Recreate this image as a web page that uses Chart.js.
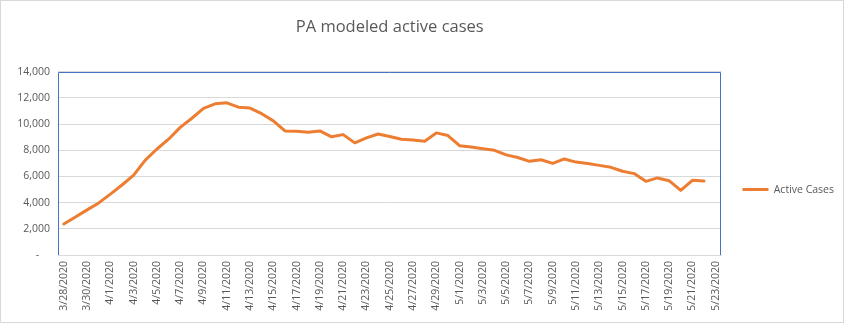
<!DOCTYPE html>
<html>
<head>
<meta charset="utf-8">
<script src="https://cdn.jsdelivr.net/npm/chart.js@4.4.1/dist/chart.umd.min.js"></script>
<style>
  body { margin: 0; background: #fff; }
  canvas { display: block; }
</style>
</head>
<body>
<canvas id="cases-chart" width="845" height="324"></canvas>
<script>
// one entry per day, 3/28/2020 .. 5/23/2020
const dates = [
  "3/28/2020", "3/29/2020", "3/30/2020", "3/31/2020", "4/1/2020", "4/2/2020",
  "4/3/2020", "4/4/2020", "4/5/2020", "4/6/2020", "4/7/2020", "4/8/2020",
  "4/9/2020", "4/10/2020", "4/11/2020", "4/12/2020", "4/13/2020", "4/14/2020",
  "4/15/2020", "4/16/2020", "4/17/2020", "4/18/2020", "4/19/2020", "4/20/2020",
  "4/21/2020", "4/22/2020", "4/23/2020", "4/24/2020", "4/25/2020", "4/26/2020",
  "4/27/2020", "4/28/2020", "4/29/2020", "4/30/2020", "5/1/2020", "5/2/2020",
  "5/3/2020", "5/4/2020", "5/5/2020", "5/6/2020", "5/7/2020", "5/8/2020",
  "5/9/2020", "5/10/2020", "5/11/2020", "5/12/2020", "5/13/2020", "5/14/2020",
  "5/15/2020", "5/16/2020", "5/17/2020", "5/18/2020", "5/19/2020", "5/20/2020",
  "5/21/2020", "5/22/2020", "5/23/2020",
];

const activeCases = [
  2370, 2900, 3450, 3980, 4650, 5350,
  6100, 7250, 8100, 8850, 9750, 10450,
  11200, 11550, 11630, 11300, 11230, 10800,
  10250, 9480, 9460, 9380, 9480, 9030,
  9200, 8570, 8950, 9250, 9050, 8850,
  8780, 8700, 9330, 9130, 8350, 8260,
  8120, 8000, 7650, 7450, 7160, 7280,
  7000, 7340, 7100, 7000, 6850, 6700,
  6400, 6220, 5630, 5890, 5680, 4940,
  5710, 5650, null,
];

const yTicks = [0, 2000, 4000, 6000, 8000, 10000, 12000, 14000];

const lineColor = "#ED7D31";
const textColor = "#595959";
const gridColor = "#D9D9D9";
const fontFamily = "'Open Sans', sans-serif";

// blue frame round the plot area + thin grey frame round the whole chart
const frames = {
  id: "frames",
  beforeDraw(chart) {
    const ctx = chart.ctx;
    ctx.save();
    ctx.fillStyle = "#fff";
    ctx.fillRect(0, 0, chart.width, chart.height);
    ctx.strokeStyle = gridColor;
    ctx.lineWidth = 1;
    ctx.strokeRect(0.5, 0.5, chart.width - 2, chart.height - 2);
    ctx.restore();
  },
  beforeDatasetsDraw(chart) {
    const { ctx, chartArea: a } = chart;
    ctx.save();
    ctx.strokeStyle = "#4472C4";
    ctx.lineWidth = 1;
    ctx.beginPath();
    ctx.moveTo(Math.round(a.left) + 0.5, Math.round(a.bottom));
    ctx.lineTo(Math.round(a.left) + 0.5, Math.round(a.top) + 0.5);
    ctx.lineTo(Math.round(a.right) - 0.5, Math.round(a.top) + 0.5);
    ctx.lineTo(Math.round(a.right) - 0.5, Math.round(a.bottom));
    ctx.stroke();
    ctx.restore();
  },
};

const ctx = document.getElementById("cases-chart").getContext("2d");
const casesChart = new Chart(ctx, {
  type: "line",
  data: {
    labels: dates,
    datasets: [
      {
        label: "Active Cases",
        data: activeCases,
        borderColor: lineColor,
        backgroundColor: lineColor,
        borderWidth: 3,
        borderJoinStyle: "round",
        borderCapStyle: "round",
        pointRadius: 0,
        tension: 0,
      },
    ],
  },
  options: {
    responsive: false,
    animation: false,
    layout: { padding: { left: 0, right: 1, top: 0, bottom: 0 } },
    plugins: {
      title: {
        display: true,
        text: "PA modeled active cases",
        fullSize: false,
        color: textColor,
        font: { family: fontFamily, size: 16.5, weight: "normal" },
        padding: { top: 17, bottom: 35 },
      },
      legend: {
        position: "right",
        fullSize: false,
        title: { display: true, text: "", font: { size: 12 }, padding: { top: 0, bottom: 38 } },
        labels: {
          boxWidth: 26,
          boxHeight: 3,
          padding: 21,
          color: textColor,
          font: { family: fontFamily, size: 10.5 },
          generateLabels(chart) {
            const items = Chart.defaults.plugins.legend.labels.generateLabels(chart);
            items.forEach((it) => {
              it.lineWidth = 0;
              it.fillStyle = lineColor;
            });
            return items;
          },
        },
      },
      tooltip: { enabled: false },
    },
    scales: {
      x: {
        offset: true,
        grid: { display: false, drawTicks: false },
        border: { display: true, color: gridColor },
        ticks: {
          autoSkip: false,
          maxRotation: 90,
          minRotation: 90,
          padding: 6,
          color: textColor,
          font: { family: fontFamily, size: 10.5 },
          callback: function (value, index) {
            return index % 2 === 0 ? this.getLabelForValue(value) : "";
          },
        },
        afterFit(scale) {
          scale.height = 69;
        },
      },
      y: {
        min: 0,
        max: 14000,
        afterBuildTicks(scale) {
          scale.ticks = yTicks.map((v) => ({ value: v }));
        },
        grid: { color: gridColor, drawTicks: false },
        border: { display: false },
        ticks: {
          padding: 8,
          color: textColor,
          font: { family: fontFamily, size: 10.5 },
          callback: (v) => (v === 0 ? "-    " : v.toLocaleString("en-US")),
        },
        afterFit(scale) {
          scale.width = 58;
        },
      },
    },
  },
  plugins: [frames],
});
</script>
</body>
</html>
